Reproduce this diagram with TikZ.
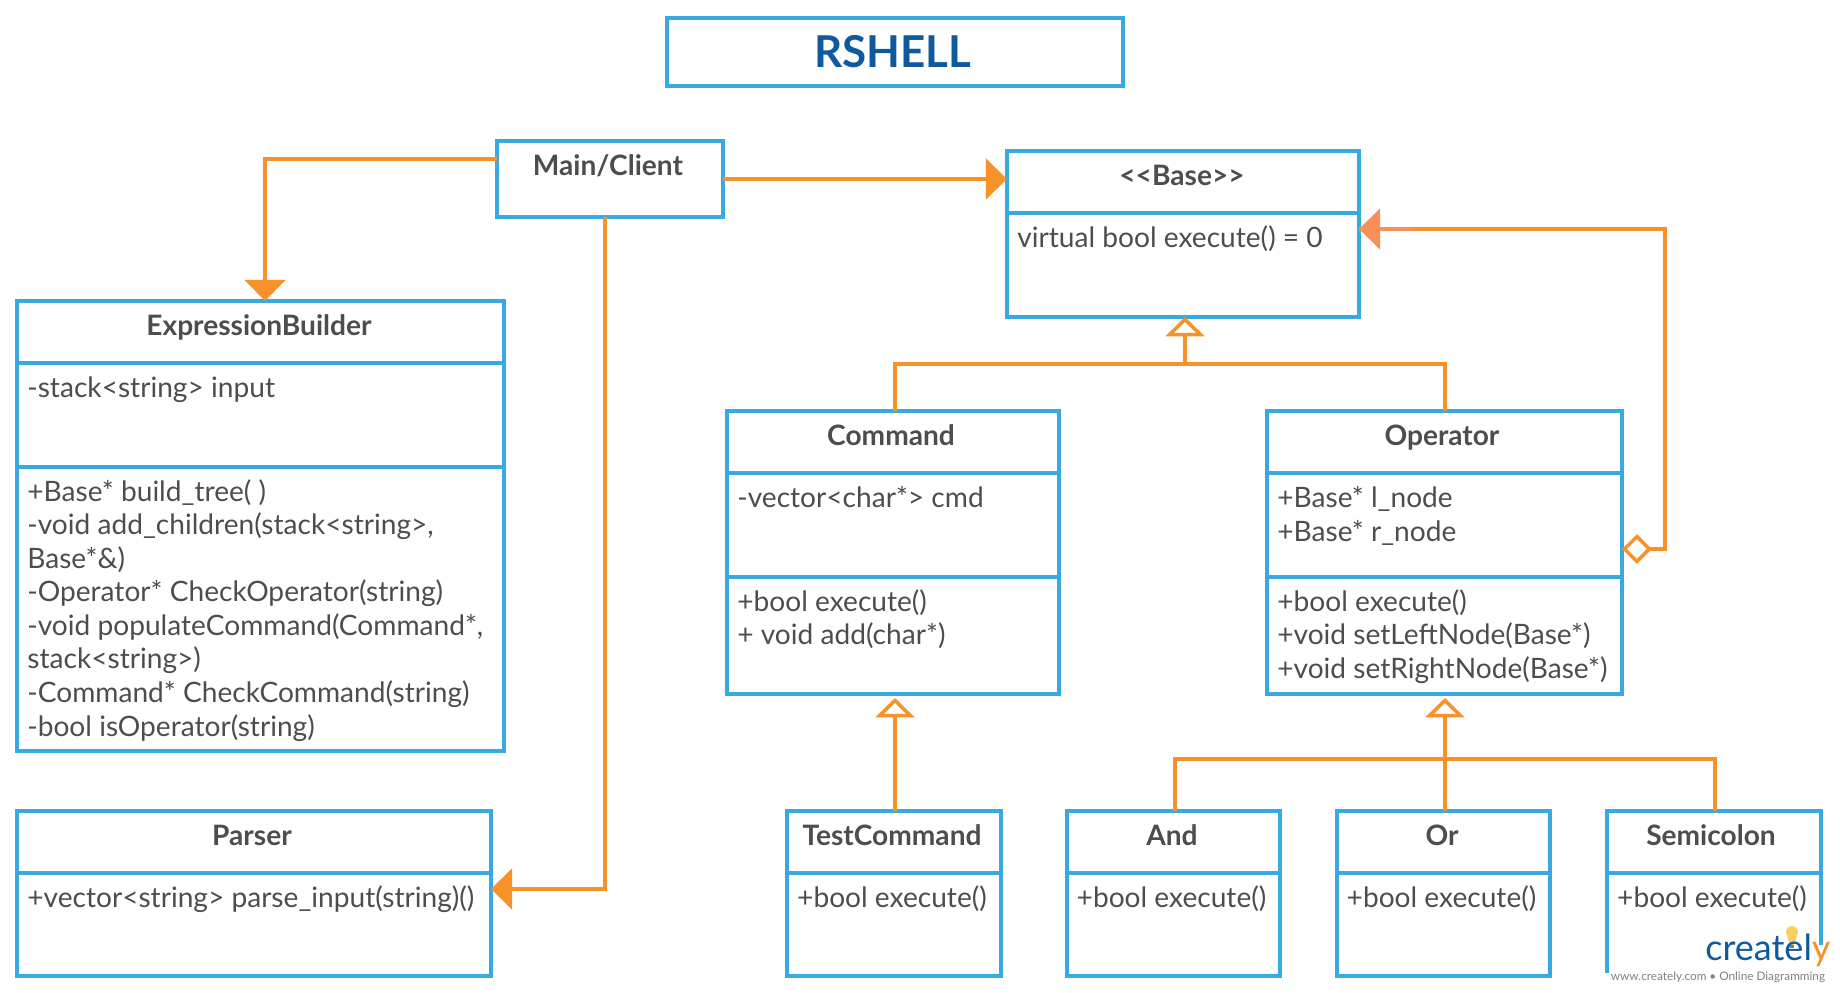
\documentclass[tikz,border=0pt]{standalone}
\usepackage{fontspec}
\setmainfont{Lato}
\usetikzlibrary{arrows.meta,fit}
\definecolor{boxblue}{HTML}{39A9E2}
\definecolor{linkorange}{HTML}{F7922A}
\definecolor{tipsalmon}{HTML}{F78F5A}
\definecolor{textgrey}{HTML}{4D4D4D}
\definecolor{titleblue}{HTML}{0F5A9C}
\definecolor{bulbyellow}{HTML}{F6D064}
\tikzset{
	classbox/.style={draw=boxblue,line width=2.1pt,inner sep=0pt,outer sep=0pt},
	sepline/.style={draw=boxblue,line width=2.1pt},
	headtext/.style={font=\fontsize{16}{19}\selectfont\bfseries,text=textgrey,inner sep=0pt,anchor=base},
	bodytext/.style={font=\fontsize{16}{19.1}\selectfont,text=textgrey,inner sep=0pt,anchor=north west,align=left},
	link/.style={draw=linkorange,line width=2pt},
	solidtip/.style={link,-{Triangle[length=12pt,width=23pt]}},
	opentip/.style={link,-{Triangle[open,fill=white,length=11pt,width=22pt]}},
	diamondtip/.style={link,{Diamond[open,fill=white,length=17pt,width=17pt]}-}
}
\begin{document}
\begin{tikzpicture}[x=0.02cm,y=-0.02cm]
	\useasboundingbox (0,0) rectangle (1840,993);
	% title
	\node[classbox,fit={(667,18) (1123,86)}] (title) {};
	\node[font=\fontsize{25}{30}\selectfont\bfseries,text=titleblue,inner sep=0pt] (titletext) at (893,52) {RSHELL};
	% main
	\node[classbox,fit={(497,141) (723,217)}] (main) {};
	\node[headtext] (maintext) at (608,176) {Main/Client};
	% base
	\node[classbox,fit={(1007,151) (1359,317)}] (base) {};
	\draw[sepline] (base.west |- 0,213) -- (base.east |- 0,213);
	\node[headtext] (basehead) at (1182,186) {<{}<Base>{}>};
	\node[bodytext] (basebody) at (1017,225) {virtual bool execute() = 0};
	% expression builder
	\node[classbox,fit={(17,301) (504,751)}] (expr) {};
	\draw[sepline] (expr.west |- 0,363) -- (expr.east |- 0,363);
	\draw[sepline] (expr.west |- 0,467) -- (expr.east |- 0,467);
	\node[headtext] (exprhead) at (259,336) {ExpressionBuilder};
	\node[bodytext] (exprattr) at (27,376) {-stack<string> input};
	\node[bodytext] (exprmeth) at (27,479) {+Base* build\_tree( )\\-void add\_children(stack<string>,\\Base*\&)\\-Operator* CheckOperator(string)\\-void populateCommand(Command*,\\stack<string>)\\-Command* CheckCommand(string)\\-bool isOperator(string)};
	% parser
	\node[classbox,fit={(17,811) (491,976)}] (parser) {};
	\draw[sepline] (parser.west |- 0,873) -- (parser.east |- 0,873);
	\node[headtext] (parserhead) at (252,845) {Parser};
	\node[bodytext] (parserbody) at (27,885) {+vector<string> parse\_input(string)()};
	% command
	\node[classbox,fit={(727,411) (1059,694)}] (cmd) {};
	\draw[sepline] (cmd.west |- 0,473) -- (cmd.east |- 0,473);
	\draw[sepline] (cmd.west |- 0,577) -- (cmd.east |- 0,577);
	\node[headtext] (cmdhead) at (891,445) {Command};
	\node[bodytext] (cmdattr) at (737,486) {-vector<char*> cmd};
	\node[bodytext] (cmdmeth) at (737,589) {+bool execute()\\+ void add(char*)};
	% operator
	\node[classbox,fit={(1267,411) (1622,694)}] (oper) {};
	\draw[sepline] (oper.west |- 0,473) -- (oper.east |- 0,473);
	\draw[sepline] (oper.west |- 0,577) -- (oper.east |- 0,577);
	\node[headtext] (operhead) at (1442,445) {Operator};
	\node[bodytext] (operattr) at (1277,486) {+Base* l\_node\\+Base* r\_node};
	\node[bodytext] (opermeth) at (1277,589) {+bool execute()\\+void setLeftNode(Base*)\\+void setRightNode(Base*)};
	% leaf classes
	\foreach \nm/\xa/\xb/\xt/\lbl in {test/787/1001/892/TestCommand,and/1067/1280/1172/And,or/1337/1550/1442/Or,semi/1607/1821/1711/Semicolon}{
		\node[classbox,fit={(\xa,811) (\xb,976)}] (\nm) {};
		\draw[sepline] (\nm.west |- 0,873) -- (\nm.east |- 0,873);
		\node[headtext] (\nm head) at (\xt,845) {\lbl};
		\node[bodytext,anchor=north,xshift=-0.04cm] (\nm body) at (\nm.north |- 0,885) {+bool execute()};
	}
	% coordinates on the box edges
	\coordinate (mainl) at (main.west |- 0,159);
	\coordinate (mainr) at (main.east |- 0,179);
	\coordinate (mainb) at (605,217);
	\coordinate (exprt) at (265,301);
	\coordinate (parserr) at (parser.east |- 0,889);
	\coordinate (basel) at (base.west |- mainr);
	\coordinate (baser) at (base.east |- 0,229);
	\coordinate (basej) at (1185,364);
	\coordinate (operj) at (1445,759);
	\coordinate (operr) at (oper.east |- 0,549);
	\coordinate (salmonend) at (1414,229);
	\coordinate (cmdb) at (895,698);
	\coordinate (operb) at (1445,698);
	% connectors
	\draw[solidtip] (mainl) -| (exprt);
	\draw[solidtip] (mainr) -- (basel);
	\draw[solidtip] (mainb) |- (parserr);
	\draw[diamondtip] (operr) -- (1665,549) |- (salmonend) -- (baser);
	\draw[solidtip,draw=tipsalmon] (salmonend) -- (baser);
	\draw[link] (cmd.north -| 895,0) |- (basej);
	\draw[link] (oper.north -| 1445,0) |- (basej);
	\draw[opentip] (basej) -- (base.south -| basej);
	\draw[opentip] (test.north -| 895,0) -- (cmdb);
	\draw[link] (and.north -| 1175,0) |- (operj);
	\draw[link] (semi.north -| 1715,0) |- (operj);
	\draw[opentip] (or.north -| operj) -- (operb);
	% watermark
	\fill[white] (1603,973) rectangle (1840,993);
	\fill[white] (1770,945) rectangle (1840,975);
	\fill[bulbyellow] (1792,932) circle (6);
	\fill[bulbyellow] (1787,936) -- (1797,936) -- (1794,945) -- (1790,945) -- cycle;
	\fill[gray] (1790,945) rectangle (1794,948);
	\node[font=\fontsize{20.5}{24}\selectfont,text=titleblue,inner sep=0pt,anchor=base west] (logo) at (1705,960) {create{l}\textcolor{linkorange}{y}};
	\node[font=\fontsize{6.7}{8}\selectfont,text=gray,inner sep=0pt] (logourl) at (1718,977) {www.creately.com • Online Diagramming};
\end{tikzpicture}
\end{document}
